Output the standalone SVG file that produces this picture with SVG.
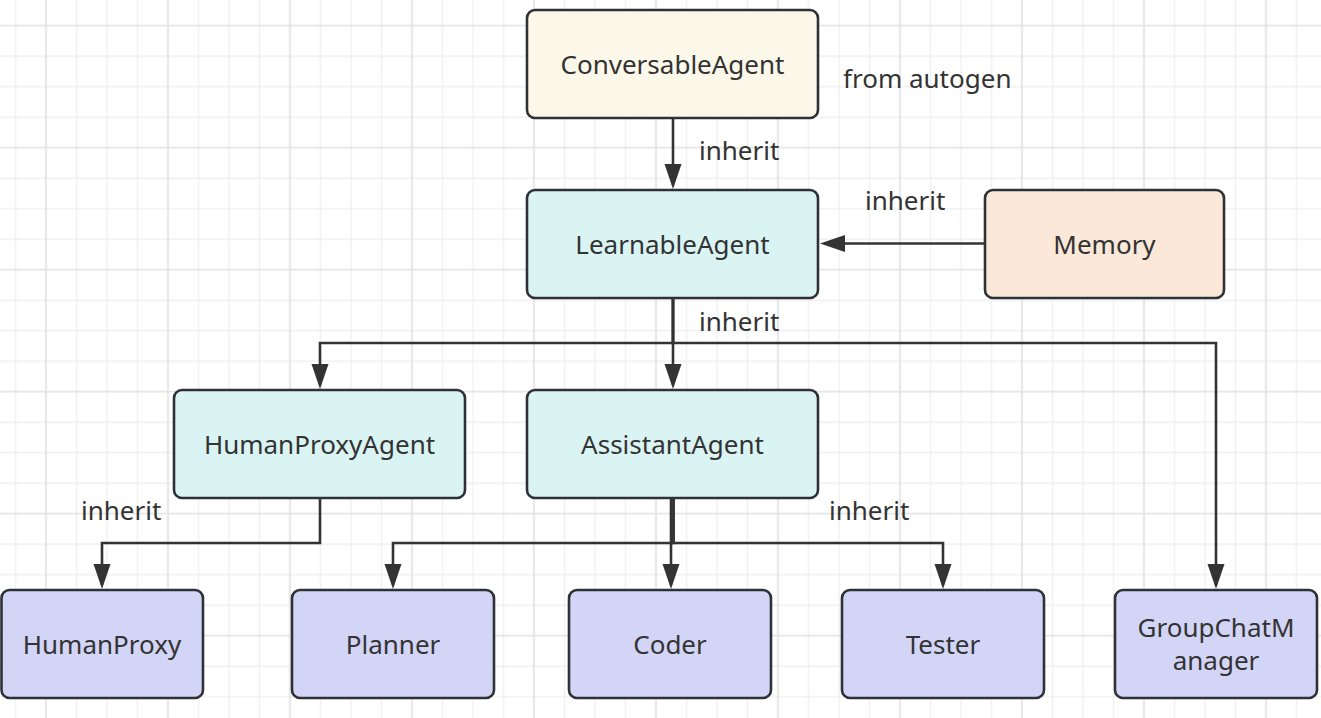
<svg xmlns="http://www.w3.org/2000/svg" width="1321" height="718" viewBox="0 0 1321 718">
<style>
.node rect{stroke:#2e3236;stroke-width:2.6}
.cream{fill:#fbf8ea}
.cyan{fill:#daf4f4}
.peach{fill:#fbe8d8}
.lav{fill:#d3d5f7}
text{font-family:"Noto Sans","Open Sans","DejaVu Sans",sans-serif;font-size:26px;fill:#333333}
.c{text-anchor:middle}
.edge{fill:none;stroke:#333333;stroke-width:2.6;marker-end:url(#arr)}
</style>
<defs>
<pattern id="grid" patternUnits="userSpaceOnUse" x="30.75" y="10.45" width="122" height="122">
<path d="M45.75,0V122M76.25,0V122M106.75,0V122M0,45.75H122M0,76.25H122M0,106.75H122" stroke="#efefef" stroke-width="1.3" fill="none"/>
<path d="M15.25,0V122M0,15.25H122" stroke="#e1e1e1" stroke-width="1.7" fill="none"/>
</pattern>
<marker id="arr" markerUnits="userSpaceOnUse" markerWidth="26" markerHeight="18" refX="21" refY="8.5" orient="auto">
<path d="M0,0L25,8.5L0,17z" fill="#333333"/>
</marker>
</defs>
<rect width="1321" height="718" fill="#ffffff"/>
<rect width="1321" height="718" fill="url(#grid)"/>

<g id="connectors">
<path class="edge" d="M673,118V185"/>
<path class="edge" d="M985,243.5H824"/>
<path class="edge" d="M673,298V343H320V385"/>
<path class="edge" d="M673,298V385"/>
<path class="edge" d="M673,298V343H1216V585"/>
<path class="edge" d="M320,498V543H102V585"/>
<path class="edge" d="M673.5,498V543H393V585"/>
<path class="edge" d="M671,498V585"/>
<path class="edge" d="M673.5,498V543H943V585"/>
</g>

<g id="labels">
<text x="699" y="160">inherit</text>
<text x="843" y="88">from autogen</text>
<text x="865" y="210">inherit</text>
<text x="699" y="331">inherit</text>
<text x="81" y="520">inherit</text>
<text x="829" y="520">inherit</text>
</g>

<g id="ConversableAgent" class="node"><rect class="cream" x="527" y="10" width="291" height="108" rx="8"/><text class="c" x="672.5" y="73.5">ConversableAgent</text></g>
<g id="LearnableAgent" class="node"><rect class="cyan" x="527" y="190" width="291" height="108" rx="8"/><text class="c" x="672.5" y="253.5">LearnableAgent</text></g>
<g id="Memory" class="node"><rect class="peach" x="985" y="190" width="239" height="108" rx="8"/><text class="c" x="1104.5" y="253.5">Memory</text></g>
<g id="HumanProxyAgent" class="node"><rect class="cyan" x="174" y="390" width="291" height="108" rx="8"/><text class="c" x="319.5" y="453.5">HumanProxyAgent</text></g>
<g id="AssistantAgent" class="node"><rect class="cyan" x="527" y="390" width="291" height="108" rx="8"/><text class="c" x="672.5" y="453.5">AssistantAgent</text></g>
<g id="HumanProxy" class="node"><rect class="lav" x="1.5" y="590" width="201.5" height="108" rx="8"/><text class="c" x="102" y="653.5">HumanProxy</text></g>
<g id="Planner" class="node"><rect class="lav" x="292" y="590" width="202" height="108" rx="8"/><text class="c" x="393" y="653.5">Planner</text></g>
<g id="Coder" class="node"><rect class="lav" x="569" y="590" width="202" height="108" rx="8"/><text class="c" x="670" y="653.5">Coder</text></g>
<g id="Tester" class="node"><rect class="lav" x="842" y="590" width="202" height="108" rx="8"/><text class="c" x="943" y="653.5">Tester</text></g>
<g id="GroupChatManager" class="node"><rect class="lav" x="1115" y="590" width="202" height="108" rx="8"/><text class="c" x="1216" y="637">GroupChatM</text><text class="c" x="1216" y="670">anager</text></g>
</svg>
